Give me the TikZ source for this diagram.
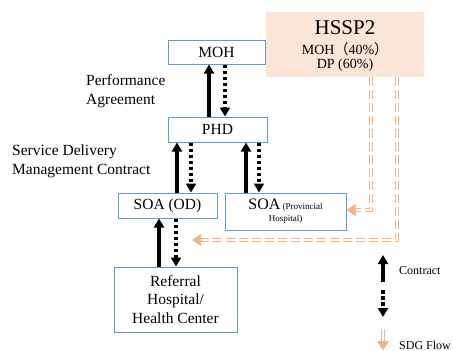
\documentclass[tikz,border=0pt]{standalone}
\usepackage{fontspec}
\setmainfont{Liberation Serif}
\newfontfamily\cjk{Noto Sans CJK SC}
\usetikzlibrary{arrows.meta}
\definecolor{boxblue}{RGB}{91,155,213}
\definecolor{sdgorange}{RGB}{244,177,131}
\definecolor{peach}{RGB}{251,229,214}
\begin{document}
\begin{tikzpicture}[x=1pt,y=-1pt,
  box/.style={draw=boxblue, line width=1pt, fill=white, inner sep=0pt, align=center,
    font=\fontsize{15.5}{18.5}\selectfont},
  lbl/.style={inner sep=0pt, align=left, anchor=west, font=\fontsize{15.5}{18.5}\selectfont},
  solidarr/.style={line width=3.2pt, -{Triangle[length=9pt,width=10pt]}},
  dotarr/.style={line width=3.4pt, dash pattern=on 3.5pt off 2.5pt, -{Triangle[length=9pt,width=10pt]}},
  sdg/.style={draw=sdgorange, double=white, double distance=1.8pt, line width=1pt, dash pattern=on 9pt off 4pt},
  sdgtip/.style={draw=sdgorange, fill=sdgorange, line width=0.6pt, -{Triangle[length=9pt,width=12pt]}}
]
\useasboundingbox (0,0) rectangle (453,351);

% boxes
\node[box, minimum width=97pt, minimum height=24pt] (moh) at (216.5,52) {MOH};
\node[fill=peach, inner sep=0pt, minimum width=158pt, minimum height=65pt] (hssp) at (345,44.5) {};
\node[inner sep=0pt, font=\fontsize{21}{24}\selectfont] (hsspt) at (345,28) {HSSP2};
\node[inner sep=0pt, font=\fontsize{14}{16}\selectfont] (hsspa) at (345,49) {MOH{\cjk（}40\%{\cjk）}};
\node[inner sep=0pt, font=\fontsize{14}{16}\selectfont] (hsspb) at (345,65) {DP (60\%)};
\node[box, minimum width=99pt, minimum height=25pt] (phd) at (217.5,129.5) {PHD};
\node[box, minimum width=99pt, minimum height=25pt] (soaod) at (167.5,205.5) {SOA (OD)};
\node[box, minimum width=121pt, minimum height=37pt, font=\fontsize{9}{12}\selectfont] (soap) at (285.5,211.5)
  {{\fontsize{16}{18}\selectfont SOA} (Provincial\\Hospital)};
\node[box, minimum width=123pt, minimum height=65pt] (ref) at (175.5,299.5) {Referral\\Hospital/\\Health Center};

% labels
\node[lbl] (pa) at (86,91) {Performance\\Agreement};
\node[lbl] (sdm) at (12,161.5) {Service Delivery\\Management Contract};

% contract arrows
\draw[solidarr] (phd.north -| 209,0) -- (moh.south -| 209,0);
\draw[dotarr] (moh.south -| 225,0) -- (phd.north -| 225,0);
\draw[solidarr] (soaod.north -| 177,0) -- (phd.south -| 177,0);
\draw[dotarr] (phd.south -| 191,0) -- (soaod.north -| 191,0);
\draw[solidarr] (soap.north -| 246,0) -- (phd.south -| 246,0);
\draw[dotarr] (phd.south -| 259,0) -- (soap.north -| 259,0);
\draw[solidarr] (ref.north -| 159,0) -- (soaod.south -| 159,0);
\draw[dotarr] (soaod.south -| 176,0) -- (ref.north -| 176,0);

% SDG flows
\coordinate (a1) at (355,210);
\draw[sdg] (hssp.south -| 371,0) -- (371,210) -- (a1);
\draw[sdgtip] (a1) -- (soap.east |- a1);
\coordinate (b1) at (201,240);
\coordinate (b2) at (192,240);
\draw[sdg] (hssp.south -| 397,0) -- (397,240) -- (b1);
\draw[sdgtip] (b1) -- (b2);

% legend
\coordinate (l1) at (383,282);
\coordinate (l2) at (383,255);
\draw[solidarr] (l1) -- (l2);
\coordinate (l3) at (383,290);
\coordinate (l4) at (383,317);
\draw[dotarr] (l3) -- (l4);
\coordinate (l5) at (383,329);
\coordinate (l6) at (383,341);
\coordinate (l7) at (383,350);
\draw[sdgorange, double=white, double distance=1.8pt, line width=1pt] (l5) -- (l6);
\draw[sdgtip] (l6) -- (l7);
\node[inner sep=0pt, anchor=west, font=\fontsize{12}{14}\selectfont] (lc) at (399,271) {Contract};
\node[inner sep=0pt, anchor=west, font=\fontsize{12}{14}\selectfont] (ls) at (399,345) {SDG Flow};
\end{tikzpicture}
\end{document}
